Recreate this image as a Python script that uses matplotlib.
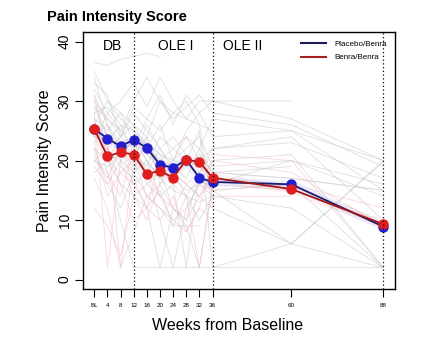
import numpy as np
import matplotlib
matplotlib.use("Agg")
import matplotlib.pyplot as plt
from matplotlib.lines import Line2D

plt.rcParams['font.family'] = ['Liberation Sans', 'DejaVu Sans']

weeks = [0, 4, 8, 12, 16, 20, 24, 28, 32, 36, 60, 88]
tick_labels = ["BL", "4", "8", "12", "16", "20", "24", "28", "32", "36", "60", "88"]

placebo_benra = [25.3, 23.7, 22.4, 23.5, 22.1, 19.3, 18.8, 20.1, 17.1, 16.4, 16.0, 8.9]
benra_benra = [25.3, 20.7, 21.4, 21.0, 17.7, 18.3, 17.1, 20.1, 19.8, 17.1, 15.2, 9.3]

n = np.nan
# individual patient trajectories (approximate)
indiv_gray = [
    [36.5, 36, 37, 37.5, 38, 37.5, n, n, n, n, n, n],
    [35, 30, 28, 26, 24, 30, 28, 27, 30, 30, 27, 20],
    [32, 28, 30, 33, 29, 34, 30, 27, 26, 25, n, n],
    [30, 27, 25, 22, 27, 31, 26, 31, 28, 30, 30, n],
    [28, 29, 26, 25, 22, 26, 20, 25, 28, 24, 25, 15],
    [26, 22, 24, 26, 22, 20, 22, 24, 20, 22, 23, 17],
    [24, 26, 20, 18, 24, 16, 20, 22, 24, 19, 20, 14],
    [22, 20, 18, 20, 14, 12, 9, 14, 10, 14, 12, 2],
    [29, 24, 22, 16, 18, 10, 2, 12, 16, 20, 21, 2],
    [27, 25, 28, 23, 20, 14, 16, 2, 18, 22, 24, 10],
    [20, 22, 19, 17, 12, 2, 12, 10, 18, 15, 6, 20],
    [25, 21, 20, 24, 16, 18, 12, 9, 2, 16, 20, 16],
    [18, 20, 16, 14, 12, 15, 9, 9, 9, n, n, n],
    [20, 18, 10, 2, 2, 2, 2, 2, 2, 2, 2, 2],
    [23, 28, 25, 30, 34, 30, 27, 29, 31, 28, 26, 19],
    [31, 26, 23, 21, 18, 22, 19, 17, 22, 27, 25, 20],
    [33, 31, 24, 29, 27, 25, 28, 30, 26, 12, 6, 2],
    [21, 17, 22, 19, 23, 21, 17, 15, 16, 15, 16, 2],
    [19, 16, 12, 18, 20, 17, 18, 16, 14, 18, 19, n],
    [24, 23, 26, 21, 19, 24, 22, 20, 25, 2, 6, 19.8],
]
indiv_pink = [
    [30, 24, 2, 20, 26, 22, 18, 16, 14, 17, n, n],
    [28, 2, 20, 24, 21, 19, 16, 14, 17, 15, 16, 12],
    [34, 26, 22, 18, 14, 16, 12, 10, 14, 12, n, n],
    [12, 9, 4, 14, 16, 14, 10, 8, 12, 10, n, n],
    [26, 22, 16, 10, 12, 20, 18, 14, 2, 16, 15, n],
    [23, 14, 18, 16, 12, 10, 14, 8, 12, 20, 18, 9],
    [31, 20, 24, 22, 18, 14, 12, 16, 18, 21, 20, 2],
    [17, 12, 2, 8, 14, 12, 10, 12, 16, 14, 14, n],
    [27, 18, 14, 22, 24, 18, 20, 24, 22, 18, 17, 15],
    [22, 16, 20, 14, 10, 16, 18, 20, 17, 15, n, n],
]
indiv_blue = [
    [29, 27, 24, 28, 25, 22, 24, 21, 19, 17, 16, n],
    [26, 30, 27, 25, 23, 21, 20, 19, 21, 18, 17, 15],
    [20, 19, 21, 24, 20, 17, 15, 14, 13, 14, n, n],
]

fig = plt.figure(figsize=(4.28, 3.37), dpi=100)
ax = fig.add_axes([82.7/428, 1-289.3/337, (395-82.7)/428, (289.3-32)/337])

w = np.array(weeks, dtype=float)
for tr in indiv_gray:
    ax.plot(w, tr, color='#c4c4c4', lw=0.6, alpha=0.55, zorder=1)
for tr in indiv_pink:
    ax.plot(w, tr, color='#f0b8c0', lw=0.6, alpha=0.55, zorder=1)
for tr in indiv_blue:
    ax.plot(w, tr, color='#b8cce0', lw=0.6, alpha=0.55, zorder=1)

# halos
ax.plot(w, placebo_benra, color='#6a7cff', lw=6, alpha=0.1, zorder=2, solid_capstyle='round')
ax.plot(w, benra_benra, color='#ff6a6a', lw=6, alpha=0.1, zorder=2, solid_capstyle='round')

ax.plot(w, placebo_benra, color='#1a1a70', lw=1.3, zorder=3)
ax.plot(w, placebo_benra, 'o', color='#2020d0', ms=6.5, mec='#2020d0', zorder=4)
ax.plot(w, benra_benra, color='#a01818', lw=1.3, zorder=5)
ax.plot(w, benra_benra, 'o', color='#e01e1e', ms=6.5, mec='#e01e1e', zorder=6)

for xv in [12, 36, 88]:
    ax.axvline(xv, color='black', ls=(0, (1, 2)), lw=0.9, zorder=7)

ax.text(5.4, 39.2, "DB", ha='center', va='center', fontsize=10)
ax.text(24.9, 39.2, "OLE I", ha='center', va='center', fontsize=10)
ax.text(45.3, 39.2, "OLE II", ha='center', va='center', fontsize=10)

ax.set_xlim(-3.53, 91.56)
ax.set_ylim(-1.64, 41.6)
ax.set_xticks(weeks)
ax.set_xticklabels(tick_labels, fontsize=4.5)
ax.set_yticks([0, 10, 20, 30, 40])
ax.set_yticklabels(["0", "10", "20", "30", "40"], fontsize=10, rotation=90, va='center')
ax.tick_params(axis='x', length=6, width=0.8, pad=4)
ax.tick_params(axis='y', length=6, width=0.8, pad=2)
for s in ax.spines.values():
    s.set_linewidth(1.0)

handles = [Line2D([], [], color='#1a1a5a', lw=1.5), Line2D([], [], color='#a82020', lw=1.5)]
leg = ax.legend(handles, ["Placebo/Benra", "Benra/Benra"], loc='upper right',
                fontsize=5.8, frameon=True, fancybox=False, edgecolor='black',
                framealpha=0, borderaxespad=0, handlelength=3.0, handletextpad=1.1,
                borderpad=1.0, labelspacing=0.75)
leg.get_frame().set_linewidth(0.8)

fig.text(47/428, 1-17/337, "Pain Intensity Score", fontsize=10.5, fontweight='bold',
         ha='left', va='center')
fig.text(45/428, 1-160.5/337, "Pain Intensity Score", fontsize=11.5, rotation=90,
         ha='center', va='center')
fig.text(228/428, 1-326/337, "Weeks from Baseline", fontsize=11.5, ha='center', va='center')

fig.savefig("out.png", dpi=100)
